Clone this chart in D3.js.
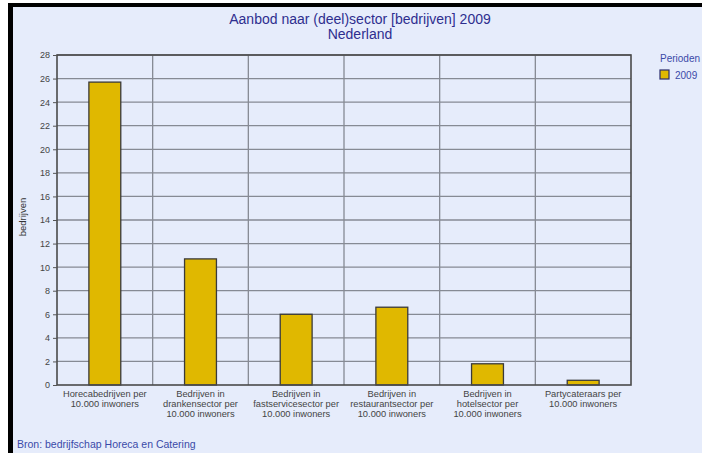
<!DOCTYPE html>
<html><head><meta charset="utf-8">
<script src="https://cdn.jsdelivr.net/npm/d3@7"></script>
<style>html,body{margin:0;padding:0;background:#fff;overflow:hidden}</style>
</head><body>
<svg id="c" width="702" height="453"></svg>
<script>
const categories = [
  ["Horecabedrijven per","10.000 inwoners"],
  ["Bedrijven in","drankensector per","10.000 inwoners"],
  ["Bedrijven in","fastservicesector per","10.000 inwoners"],
  ["Bedrijven in","restaurantsector per","10.000 inwoners"],
  ["Bedrijven in","hotelsector per","10.000 inwoners"],
  ["Partycateraars per","10.000 inwoners"]
];
const values2009 = [25.7, 10.7, 6.0, 6.6, 1.8, 0.4];
const yTicks = [0,2,4,6,8,10,12,14,16,18,20,22,24,26,28];
const seriesName = "2009";

const svg = d3.select("#c");
const font = "Liberation Sans, Arial, sans-serif";
svg.append("rect").attr("x",0).attr("y",0).attr("width",702).attr("height",453).attr("fill","#fff");
svg.append("rect").attr("x",8).attr("y",3).attr("width",694).attr("height",450).attr("fill","#000");
svg.append("rect").attr("x",13).attr("y",7).attr("width",689).attr("height",446).attr("fill","#e6ecfb");

const L=57, R=631, T=55, B=385;
const x = d3.scaleBand().domain(d3.range(categories.length)).range([L,R]).paddingInner(0).paddingOuter(0);
const y = d3.scaleLinear().domain([0,28]).range([B,T]);

const g = svg.append("g");
g.selectAll(".hg").data(yTicks.filter(d=>d>0)).enter().append("line")
  .attr("x1",L).attr("x2",R).attr("y1",d=>y(d)).attr("y2",d=>y(d))
  .attr("stroke","#868a94").attr("stroke-width",1.3);
g.selectAll(".vg").data(d3.range(1,categories.length)).enter().append("line")
  .attr("x1",d=>x(d)).attr("x2",d=>x(d)).attr("y1",T).attr("y2",B)
  .attr("stroke","#868a94").attr("stroke-width",1.3);

const bw = x.bandwidth()/3;
g.selectAll(".bar").data(values2009).enter().append("rect")
  .attr("x",(d,i)=>x(i)+x.bandwidth()/2-bw/2)
  .attr("width",bw)
  .attr("y",d=>y(d)).attr("height",d=>B-y(d))
  .attr("fill","#e0b800").attr("stroke","#3a3a3a").attr("stroke-width",1.3);

g.append("rect").attr("x",L).attr("y",T).attr("width",R-L).attr("height",B-T)
  .attr("fill","none").attr("stroke","#4a4a4a").attr("stroke-width",1.6);

const ya = svg.append("g").attr("transform",`translate(${L},0)`)
  .call(d3.axisLeft(y).tickValues(yTicks).tickSize(4).tickPadding(3));
ya.select(".domain").remove();
ya.selectAll("line").attr("stroke","#555");
ya.selectAll("text").attr("font-family",font).attr("font-size","9px").attr("fill","#444");

const xl = svg.append("g");
categories.forEach((lines,i)=>{
  const cx = x(i)+x.bandwidth()/2;
  const t = xl.append("text").attr("text-anchor","middle")
    .attr("font-family",font).attr("font-size","9.3px").attr("fill","#444")
    .attr("x",cx).attr("y",397);
  lines.forEach((ln,j)=>t.append("tspan").attr("x",cx).attr("dy",j?10:0).text(ln));
});

svg.append("text").attr("transform","translate(26,217) rotate(-90)")
  .attr("text-anchor","middle").attr("font-family",font).attr("font-size","9.5px").attr("fill","#333")
  .text("bedrijven");

svg.append("text").attr("x",360).attr("y",24).attr("text-anchor","middle")
  .attr("font-family",font).attr("font-size","14px").attr("fill","#2e2e8f")
  .text("Aanbod naar (deel)sector [bedrijven] 2009");
svg.append("text").attr("x",360).attr("y",39).attr("text-anchor","middle")
  .attr("font-family",font).attr("font-size","14px").attr("fill","#2e2e8f")
  .text("Nederland");

svg.append("text").attr("x",660).attr("y",62).attr("font-family",font).attr("font-size","10px").attr("fill","#3a4aa8").text("Perioden");
svg.append("rect").attr("x",660).attr("y",70).attr("width",9).attr("height",9)
  .attr("fill","#e0b800").attr("stroke","#2a2a6a").attr("stroke-width",1.2);
svg.append("text").attr("x",675).attr("y",78.5).attr("font-family",font).attr("font-size","10px").attr("fill","#3a4aa8").text(seriesName);

svg.append("text").attr("x",17).attr("y",448).attr("font-family",font).attr("font-size","10.5px").attr("fill","#3a4aa8")
  .text("Bron: bedrijfschap Horeca en Catering");
</script>
</body></html>
